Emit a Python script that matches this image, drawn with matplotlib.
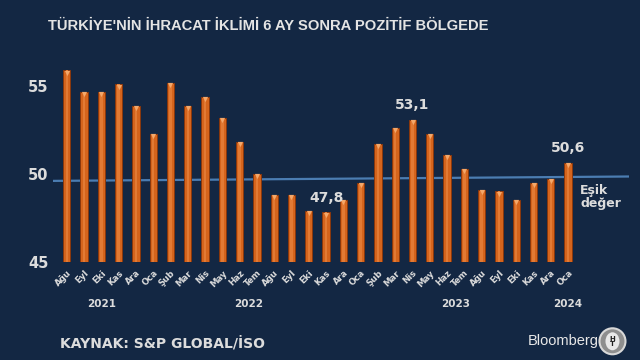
import matplotlib.pyplot as plt
from matplotlib.patches import Ellipse

# Türkiye imalat PMI - ihracat iklimi endeksi (Ağu 2021 - Oca 2024)
months = ["Ağu", "Eyl", "Eki", "Kas", "Ara",
          "Oca", "Şub", "Mar", "Nis", "May", "Haz", "Tem", "Ağu", "Eyl", "Eki", "Kas", "Ara",
          "Oca", "Şub", "Mar", "Nis", "May", "Haz", "Tem", "Ağu", "Eyl", "Eki", "Kas", "Ara",
          "Oca"]
values = [55.9, 54.7, 54.7, 55.1, 53.9,
          52.3, 55.2, 53.9, 54.4, 53.2, 51.8, 50.0, 48.8, 48.8, 47.9, 47.8, 48.5,
          49.5, 51.7, 52.6, 53.1, 52.3, 51.1, 50.3, 49.1, 49.0, 48.5, 49.5, 49.7,
          50.6]
years = ["2021", "2022", "2023", "2024"]
year_pos = [2.0, 10.5, 22.5, 29.0]
callouts = {15: "47,8", 20: "53,1", 29: "50,6"}
threshold = [49.6, 49.85]  # cizgi orijinalde hafif egik

BG = "#132743"
TXT = "#DCDCDC"
ORANGE = "#D5641C"

fig = plt.figure(figsize=(6.4, 3.6), dpi=100, facecolor=BG)
ax = fig.add_axes([0.0827, 0.2736, 0.8995, 0.5355])
ax.set_facecolor(BG)

x = list(range(len(values)))
ax.bar(x, [v - 45 for v in values], bottom=45, width=0.42,
       color=ORANGE, edgecolor="#8A380C", linewidth=0.7, zorder=2)
ax.bar(x, [v - 45 for v in values], bottom=45, width=0.14,
       color="#E27A34", linewidth=0, zorder=2)
ax.scatter(x, [v - 0.12 for v in values], marker="v", s=14,
           color="#F4A86A", linewidth=0, zorder=3)

ax.plot([-0.8, 32.5], threshold, color="#4B7DB2", linewidth=1.6, zorder=1)

ax.set_xlim(-0.8, 32.5)
ax.set_ylim(45, 56)
for s in ax.spines.values():
    s.set_visible(False)
ax.set_yticks([45, 50, 55])
ax.tick_params(axis="y", length=0, pad=3, labelsize=10.5, labelcolor=TXT)
for t in ax.get_yticklabels():
    t.set_fontweight("bold")
ax.set_xticks(x)
ax.set_xticklabels(months, rotation=45, ha="right", rotation_mode="anchor",
                   fontsize=6.2, color=TXT, fontweight="bold")
ax.tick_params(axis="x", length=0, pad=5)

for i, txt in callouts.items():
    ax.text(i, values[i] + 0.45, txt, ha="center", va="bottom",
            fontsize=10, fontweight="bold", color=TXT)

ax.text(29.7, 49.45, "Eşik\ndeğer", ha="left", va="top", fontsize=9,
        fontweight="bold", color=TXT, linespacing=1.0)

for p, y in zip(year_pos, years):
    ax.text(p, 42.6, y, ha="center", va="center", fontsize=7.5,
            fontweight="bold", color=TXT)

fig.text(0.419, 0.928, "TÜRKİYE'NİN İHRACAT İKLİMİ 6 AY SONRA POZİTİF BÖLGEDE",
         ha="center", va="center", fontsize=10.6, fontweight="bold",
         color="#E4E4E4", family="Liberation Sans")
fig.text(0.094, 0.047, "KAYNAK: S&P GLOBAL/İSO", ha="left", va="center",
         fontsize=10, fontweight="bold", color=TXT)
fig.text(0.936, 0.052, "Bloomberg", ha="right", va="center", fontsize=10.5,
         color="#E8E8E8", family="Liberation Sans")
fig.patches.append(Ellipse((0.957, 0.052), 26 / 640, 26 / 360, transform=fig.transFigure,
                           facecolor="#8E8E8E", edgecolor="#D8D8D8", linewidth=1.5))
fig.patches.append(Ellipse((0.957, 0.052), 14 / 640, 18 / 360, transform=fig.transFigure,
                           facecolor="#E8E8E8", edgecolor="none"))
fig.text(0.957, 0.052, "H\nT", ha="center", va="center", fontsize=5,
         fontweight="bold", color="#202020", linespacing=0.9)

fig.savefig("out.png", dpi=100, facecolor=BG)
